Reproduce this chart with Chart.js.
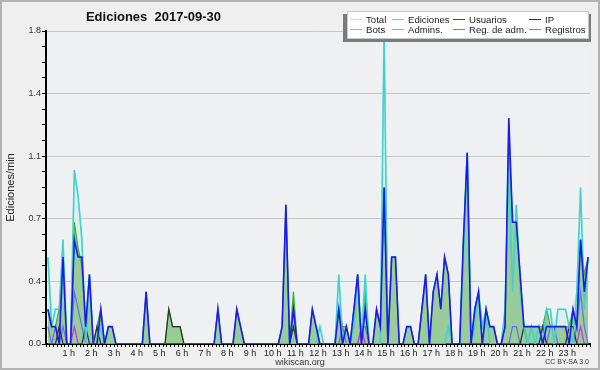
<!DOCTYPE html>
<html>
<head>
<meta charset="utf-8">
<script src="https://cdn.jsdelivr.net/npm/chart.js@4.4.1/dist/chart.umd.min.js"></script>
<style>
html,body{margin:0;padding:0;background:#fff;}
#wrap{position:relative;width:600px;height:370px;background:#efefef;overflow:hidden;font-family:"Liberation Sans",Arial,sans-serif;}
#frame{position:absolute;left:0;top:0;width:600px;height:370px;box-sizing:border-box;border:2px solid #b2b2b2;pointer-events:none;}
canvas{position:absolute;left:0;top:0;}
#title{position:absolute;left:0;width:307px;top:9px;line-height:15px;text-align:center;font-weight:bold;font-size:13px;white-space:pre;color:#111;}
#site{position:absolute;left:0;width:600px;top:357px;line-height:10px;text-align:center;font-size:9px;color:#333;}
#lic{position:absolute;right:11px;top:358px;line-height:8px;font-size:7px;color:#333;}
#legend{position:absolute;left:347px;top:11px;width:240px;height:26px;background:#fff;border:1px solid #c8c8c8;box-shadow:-4px 3px 0 #7b7b7b, 2px 3px 0 #7b7b7b;}
.li{position:absolute;height:11px;line-height:11px;font-size:9.6px;color:#222;white-space:nowrap;}
.li i{position:absolute;left:0;top:5px;width:12px;height:1px;}
.li span{position:absolute;left:16px;top:0;}
</style>
</head>
<body>
<div id="wrap">
  <canvas id="c" width="600" height="370"></canvas>
  <div id="title">Ediciones  2017-09-30</div>
  <div id="legend"></div>
  <div id="site">wikiscan.org</div>
  <div id="lic">CC BY-SA 3.0</div>
  <div id="frame"></div>
</div>
<script>
// 10-minute bins, 6 per hour, 24 hours (values in edits/min)
const hourLabels = ['1 h','2 h','3 h','4 h','5 h','6 h','7 h','8 h','9 h','10 h','11 h','12 h','13 h','14 h','15 h','16 h','17 h','18 h','19 h','20 h','21 h','22 h','23 h'];
const yLabels = ['0.0','0.4','0.7','1.1','1.4','1.8'];

const total = [
 0.5,0.2,0.2,0.2,0.6,0,
 0,1.0,0.85,0.6,0.1,0.4,
 0,0.1,0.2,0,0.1,0.1,
 0,0,0,0,0,0,
 0,0,0.3,0,0,0,
 0,0,0.2,0.1,0.1,0.1,
 0,0,0,0,0,0,
 0,0,0,0.2,0,0,
 0,0,0.2,0.1,0,0,
 0,0,0,0,0,0,
 0,0,0.1,0.8,0,0.3,
 0,0,0,0,0.2,0.1,
 0.1,0,0,0,0,0.4,
 0.1,0.1,0,0.2,0.4,0.1,
 0.4,0,0,0.2,0.1,1.8,
 0,0.5,0.5,0,0,0.1,
 0.1,0,0,0.2,0.4,0,
 0.3,0.4,0.2,0.5,0.4,0,
 0,0,0.6,1.1,0,0.2,
 0.3,0.1,0.2,0.1,0.1,0,
 0,0.2,1.3,0.7,0.8,0.4,
 0.1,0.1,0.1,0.1,0.1,0.1,
 0.2,0.2,0.1,0.2,0.2,0.2,
 0.1,0.2,0.3,0.9,0.3,0.5];

const ediciones = [
 0.2,0.1,0.1,0.2,0.5,0,
 0,0.7,0.55,0.45,0.1,0.4,
 0,0.1,0.2,0,0.1,0.1,
 0,0,0,0,0,0,
 0,0,0.3,0,0,0,
 0,0,0.2,0.1,0.1,0.1,
 0,0,0,0,0,0,
 0,0,0,0.2,0,0,
 0,0,0.2,0.1,0,0,
 0,0,0,0,0,0,
 0,0,0.1,0.8,0,0.3,
 0,0,0,0,0.2,0.1,
 0,0,0,0,0,0.2,
 0.1,0.1,0,0.2,0.4,0,
 0.3,0,0,0.2,0.1,0.9,
 0,0.5,0.5,0,0,0.1,
 0.1,0,0,0.2,0.4,0,
 0.3,0.4,0.2,0.5,0.4,0,
 0,0,0.6,1.1,0,0.2,
 0.3,0,0.2,0.1,0.1,0,
 0,0.1,1.2,0.7,0.7,0.4,
 0.1,0.1,0.1,0.1,0.1,0.1,
 0.2,0.1,0.1,0.1,0.1,0.1,
 0.1,0.2,0.1,0.6,0.4,0.5];

const usuarios = [
 0.2,0.1,0.1,0,0.5,0,
 0,0.6,0.5,0.5,0.1,0.4,
 0,0,0.2,0,0.1,0.1,
 0,0,0,0,0,0,
 0,0,0.3,0,0,0,
 0,0,0,0,0,0,
 0,0,0,0,0,0,
 0,0,0,0.2,0,0,
 0,0,0.2,0.1,0,0,
 0,0,0,0,0,0,
 0,0,0.1,0.8,0,0.2,
 0,0,0,0,0.2,0.1,
 0,0,0,0,0,0.2,
 0,0.1,0,0.2,0.4,0,
 0.2,0,0,0.2,0.1,0.9,
 0,0.5,0.5,0,0,0.1,
 0.1,0,0,0.2,0.4,0,
 0.3,0.4,0.2,0.5,0.4,0,
 0,0,0.6,1.1,0,0.2,
 0.3,0,0.2,0.1,0.1,0,
 0,0.1,1.3,0.7,0.7,0.4,
 0.1,0.1,0.1,0.1,0.1,0,
 0.1,0.1,0.1,0.1,0.1,0.1,
 0,0.2,0.1,0.6,0.3,0.5];

const ip = [
 0,0,0,0.1,0,0,
 0,0,0,0,0.1,0,
 0,0.1,0,0,0,0,
 0,0,0,0,0,0,
 0,0,0,0,0,0,
 0,0,0.2,0.1,0.1,0.1,
 0,0,0,0,0,0,
 0,0,0,0,0,0,
 0,0,0,0,0,0,
 0,0,0,0,0,0,
 0,0,0,0,0,0.1,
 0,0,0,0,0,0,
 0,0,0,0,0,0,
 0,0,0,0,0,0,
 0,0,0,0,0,0,
 0,0,0,0,0,0,
 0,0,0,0,0,0,
 0,0,0,0,0,0,
 0,0,0,0,0,0,
 0,0,0,0,0,0,
 0,0,0,0,0,0,
 0.1,0,0,0,0,0.1,
 0,0,0,0,0,0,
 0.1,0.1,0,0,0,0];

const bots = [
 0,0,0,0,0,0, 0,0,0,0,0,0, 0,0,0,0,0,0, 0,0,0,0,0,0,
 0,0,0,0,0,0, 0,0,0,0,0,0, 0,0,0,0,0,0, 0,0,0,0,0,0,
 0,0,0,0,0,0, 0,0,0,0,0,0, 0,0,0,0,0,0, 0,0,0,0,0,0,
 0,0,0,0,0,0, 0,0,0,0,0,0, 0,0,0,0,0,0, 0,0,0,0,0,0,
 0,0,0,0,0,0, 0,0,0,0,0,0, 0,0,0,0,0,0, 0,0,0,0,0,0,
 0,0,0,0,0,0, 0,0,0,0,0,0, 0,0,0,0,0,0, 0,0,0,0,0,0];

const admins = [
 0.5,0.1,0.2,0.2,0.6,0,
 0,1.0,0.85,0.6,0,0.4,
 0,0,0.1,0,0,0,
 0,0,0,0,0,0,
 0,0,0,0,0,0,
 0,0,0,0,0,0,
 0,0,0,0,0,0,
 0,0,0,0,0,0,
 0,0,0,0,0,0,
 0,0,0,0,0,0,
 0,0,0,0,0,0,
 0,0,0,0,0,0,
 0.1,0,0,0,0,0.4,
 0,0,0,0.1,0.4,0,
 0.4,0,0,0,0,1.8,
 0,0,0,0,0,0,
 0,0,0,0,0,0,
 0,0,0,0,0.1,0,
 0,0,0.5,1.1,0,0.1,
 0.3,0.1,0.2,0,0,0,
 0,0.2,1.0,0.3,0.8,0.3,
 0.1,0,0.1,0,0.1,0,
 0.2,0.2,0,0.2,0.2,0.2,
 0.1,0,0.3,0.9,0.2,0.5];

const regAdm = [
 0,0,0,0,0,0,
 0,0.1,0,0,0,0,
 0,0,0,0,0,0, 0,0,0,0,0,0, 0,0,0,0,0,0, 0,0,0,0,0,0,
 0,0,0,0,0,0, 0,0,0,0,0,0, 0,0,0,0,0,0, 0,0,0,0,0,0,
 0,0,0,0,0,0, 0,0,0,0,0,0, 0,0,0,0,0,0,
 0,0,0,0,0,0.1,
 0,0,0,0,0,0, 0,0,0,0,0,0, 0,0,0,0,0,0, 0,0,0,0,0,0,
 0,0,0,0,0,0, 0,0,0,0,0,0, 0,0,0,0,0,0, 0,0,0,0,0,0,
 0,0,0,0,0,0,
 0,0,0,0.1,0,0];

const registros = [
 0.1,0,0.1,0,0.1,0,
 0,0.3,0.2,0.1,0,0,
 0,0,0,0,0,0, 0,0,0,0,0,0, 0,0,0,0,0,0, 0,0,0,0,0,0,
 0,0,0,0,0,0, 0,0,0,0,0,0, 0,0,0,0,0,0, 0,0,0,0,0,0,
 0,0,0,0,0,0, 0,0,0,0,0,0, 0,0,0,0,0,0,
 0.1,0,0,0,0,0.1,
 0.1,0,0,0,0,0,
 0,0,0,0,0,0, 0,0,0,0,0,0, 0,0,0,0,0,0, 0,0,0,0,0,0, 0,0,0,0,0,0,
 0,0,0,0.1,0.1,0,
 0,0,0,0,0,0,
 0,0.1,0.1,0,0,0,
 0,0,0.1,0.3,0.1,0];

// bin centres in hours
const pts = arr => arr.map((v, i) => ({ x: (i + 0.5) / 6, y: v }));

const bgPlugin = {
  id: 'plotBg',
  beforeDraw(chart) {
    const a = chart.chartArea, c = chart.ctx;
    c.save(); c.fillStyle = '#eef0f2';
    c.fillRect(a.left, a.top, a.right - a.left, a.bottom - a.top);
    c.restore();
  }
};

const lineDs = (label, data, color, legendColor, order, width) => ({
  label, data: pts(data), borderColor: color, legendColor,
  backgroundColor: color, borderWidth: width, fill: false, order,
  pointRadius: 0, tension: 0
});

const chart = new Chart(document.getElementById('c'), {
  type: 'line',
  data: {
    datasets: [
      { label: 'Total', data: pts(total), borderColor: '#b4e6e4', legendColor: '#aee8e6',
        backgroundColor: '#dcf1ee', fill: 'origin', borderWidth: 1, order: 20, pointRadius: 0, tension: 0 },
      { label: 'Ediciones', data: pts(ediciones), borderColor: '#3fae3f', legendColor: '#8fd08f',
        backgroundColor: '#99cc99', fill: 'origin', borderWidth: 1.3, order: 19, pointRadius: 0, tension: 0 },
      lineDs('Usuarios', usuarios, '#1a1aec', '#3b3bdd', 1, 1.6),
      lineDs('IP', ip, '#2e2e2e', '#333333', 5, 1.2),
      lineDs('Bots', bots, '#ff9933', '#ff9933', 8, 1),
      lineDs('Admins.', admins, '#3ed4cc', '#44ccdd', 3, 1.6),
      lineDs('Reg. de adm.', regAdm, '#cc33dd', '#dd44dd', 6, 1.2),
      lineDs('Registros', registros, '#6b6bf0', '#7777ee', 7, 1.2)
    ]
  },
  plugins: [bgPlugin],
  options: {
    responsive: false,
    animation: false,
    events: [],
    layout: { padding: { top: 31, right: 10, left: 0, bottom: 0 } },
    plugins: { legend: { display: false }, title: { display: false }, tooltip: { enabled: false } },
    scales: {
      x: {
        type: 'linear', min: 0, max: 24,
        afterFit: s => { s.height = 26; },
        border: { color: '#000', width: 2 },
        grid: { drawOnChartArea: false, drawTicks: true, tickLength: 3, tickColor: '#000', tickWidth: 1 },
        ticks: {
          stepSize: 1 / 6, autoSkip: false, maxRotation: 0, minRotation: 0, padding: 1,
          color: '#222', font: { family: 'Liberation Sans', size: 9 },
          callback: (v, i) => (i % 6 === 0 && i > 0 && i < 144) ? hourLabels[i / 6 - 1] : ''
        }
      },
      y: {
        min: 0, max: 1.8,
        afterFit: s => { s.width = 46; },
        border: { color: '#000', width: 2 },
        grid: {
          drawTicks: true, tickLength: 4, tickColor: '#000', tickWidth: 1, lineWidth: 1,
          color: ctx => (ctx.index % 4 === 0 && ctx.index > 0) ? '#c8c8c8' : 'rgba(0,0,0,0)'
        },
        ticks: {
          stepSize: 0.09, autoSkip: false, padding: 1,
          color: '#333', font: { family: 'Liberation Sans', size: 9 },
          callback: (v, i) => i % 4 === 0 ? yLabels[i / 4] : ''
        },
        title: {
          display: true, text: 'Ediciones/min', color: '#222',
          font: { family: 'Liberation Sans', size: 11 }, padding: { top: 4, bottom: 0 }
        }
      }
    }
  }
});

// HTML legend built from the chart's datasets (4 columns x 2 rows)
const colLeft = [2, 44, 105, 181];
const rowTop = [2, 12];
const leg = document.getElementById('legend');
chart.data.datasets.forEach((ds, k) => {
  const item = document.createElement('div');
  item.className = 'li';
  item.style.left = colLeft[k % 4] + 'px';
  item.style.top = rowTop[Math.floor(k / 4)] + 'px';
  const sw = document.createElement('i');
  sw.style.background = ds.legendColor;
  const tx = document.createElement('span');
  tx.textContent = ds.label;
  item.appendChild(sw); item.appendChild(tx);
  leg.appendChild(item);
});
</script>
</body>
</html>
